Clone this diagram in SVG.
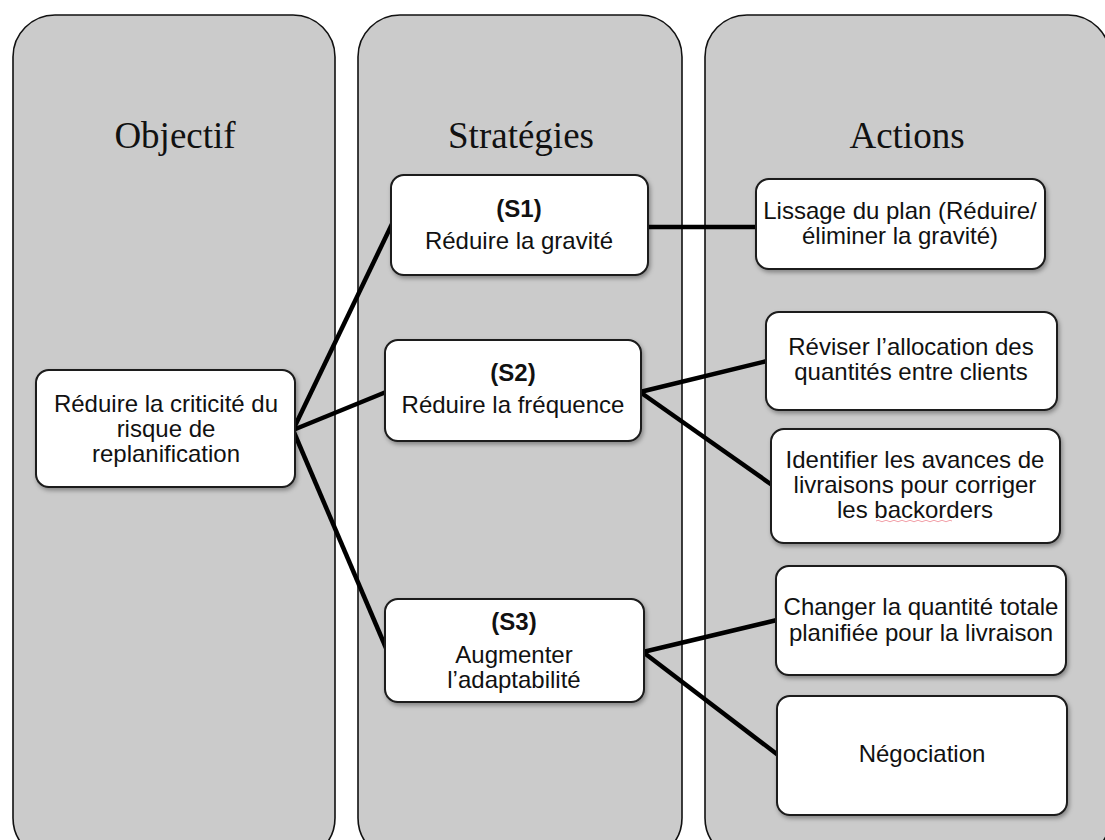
<svg xmlns="http://www.w3.org/2000/svg" width="1105" height="840" viewBox="0 0 1105 840">
<style>
.col{fill:#cbcbcb;stroke:#111;stroke-width:1.6}
.hdr{font-family:"Liberation Serif","Times New Roman",serif;font-size:37px;fill:#111;text-anchor:middle}
.box{fill:#fff;stroke:#1a1a1a;stroke-width:2}
.t{font-family:"Liberation Sans",Arial,sans-serif;font-size:24px;fill:#111;text-anchor:middle}
.b{font-weight:bold}
.con{stroke:#000;stroke-width:4.5;fill:none;stroke-linecap:butt}
</style>
<defs>
<filter id="sh" x="-10%" y="-10%" width="130%" height="130%">
<feDropShadow dx="1.5" dy="2.5" stdDeviation="2" flood-color="#000" flood-opacity="0.35"/>
</filter>
</defs>
<rect width="1105" height="840" fill="#fff"/>
<g id="columns">
<g id="col-objectif"><rect class="col" x="13" y="15" width="322" height="845" rx="42"/><text class="hdr" x="175" y="148">Objectif</text></g>
<g id="col-strategies"><rect class="col" x="358" y="15" width="324" height="845" rx="42"/><text class="hdr" x="521" y="148">Stratégies</text></g>
<g id="col-actions"><rect class="col" x="705" y="15" width="405" height="845" rx="42"/><text class="hdr" x="907" y="148">Actions</text></g>
</g>
<g id="connectors">
<line class="con" x1="293" y1="430" x2="392" y2="224"/>
<line class="con" x1="293" y1="430" x2="386" y2="392"/>
<line class="con" x1="293" y1="430" x2="386" y2="648"/>
<line class="con" x1="647" y1="227" x2="757" y2="227"/>
<line class="con" x1="640" y1="392" x2="767" y2="361"/>
<line class="con" x1="640" y1="392" x2="772" y2="485"/>
<line class="con" x1="643" y1="652" x2="777" y2="620"/>
<line class="con" x1="643" y1="652" x2="778" y2="755"/>
</g>
<g id="n-objectif"><rect class="box" filter="url(#sh)" x="36" y="370" width="259" height="117" rx="13"/>
<text class="t" x="166" y="412">Réduire la criticité du</text><text class="t" x="166" y="437">risque de</text><text class="t" x="166" y="462">replanification</text></g>
<g id="n-s1"><rect class="box" filter="url(#sh)" x="391" y="175" width="257" height="100" rx="13"/>
<text class="t b" x="519" y="217">(S1)</text><text class="t" x="519" y="249">Réduire la gravité</text></g>
<g id="n-s2"><rect class="box" filter="url(#sh)" x="385" y="340" width="256" height="101" rx="13"/>
<text class="t b" x="513" y="381">(S2)</text><text class="t" x="513" y="413">Réduire la fréquence</text></g>
<g id="n-s3"><rect class="box" filter="url(#sh)" x="385" y="599" width="259" height="103" rx="13"/>
<text class="t b" x="514" y="630">(S3)</text><text class="t" x="514" y="663">Augmenter</text><text class="t" x="514" y="688">l’adaptabilité</text></g>
<g id="n-a1"><rect class="box" filter="url(#sh)" x="756" y="179" width="289" height="90" rx="13"/>
<text class="t" x="900" y="219">Lissage du plan (Réduire/</text><text class="t" x="900" y="244">éliminer la gravité)</text></g>
<g id="n-a2"><rect class="box" filter="url(#sh)" x="766" y="312" width="291" height="98" rx="13"/>
<text class="t" x="911" y="355">Réviser l’allocation des</text><text class="t" x="911" y="380">quantités entre clients</text></g>
<g id="n-a3"><rect class="box" filter="url(#sh)" x="771" y="429" width="289" height="114" rx="13"/>
<text class="t" x="915" y="468">Identifier les avances de</text><text class="t" x="915" y="493">livraisons pour corriger</text><text class="t" x="915" y="518">les backorders</text>
<path d="M876 521 q2 -1.5 4 0 t4 0 t4 0 t4 0 t4 0 t4 0 t4 0 t4 0 t4 0 t4 0 t4 0 t4 0 t4 0 t4 0 t4 0 t4 0 t4 0 t4 0 t4 0" fill="none" stroke="#f2a0a8" stroke-width="1"/></g>
<g id="n-a4"><rect class="box" filter="url(#sh)" x="776" y="566" width="290" height="109" rx="13"/>
<text class="t" x="921" y="615">Changer la quantité totale</text><text class="t" x="921" y="641">planifiée pour la livraison</text></g>
<g id="n-a5"><rect class="box" filter="url(#sh)" x="777" y="696" width="290" height="119" rx="13"/>
<text class="t" x="922" y="762">Négociation</text></g>
</svg>
